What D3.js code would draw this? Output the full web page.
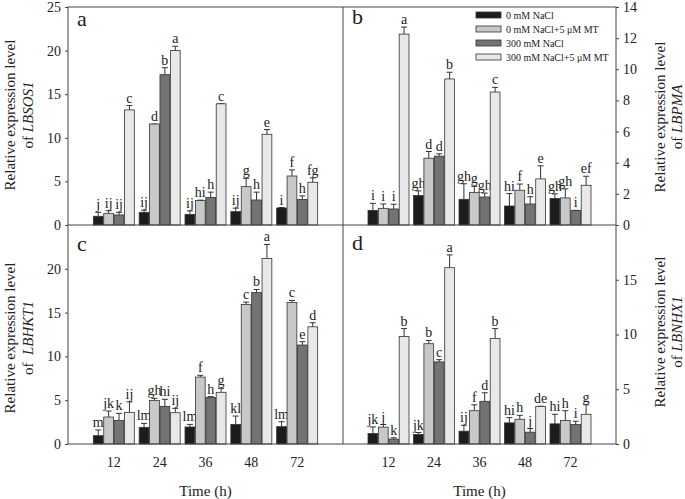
<!DOCTYPE html>
<html>
<head>
<meta charset="utf-8">
<script src="https://cdn.jsdelivr.net/npm/d3@7"></script>
<style>
body { margin: 0; background: #fff; }
text { font-family: "Liberation Serif", "Times New Roman", serif; fill: #222; }
</style>
</head>
<body>
<script>
var width = 685,
    height = 499;

// data
var times = ["12", "24", "36", "48", "72"];
var treatments = ["0 mM NaCl", "0 mM NaCl+5 μM MT", "300 mM NaCl", "300 mM NaCl+5 μM MT"];

var sos1Mean = [[1.0, 1.34, 1.15, 13.2], [1.45, 11.58, 17.24, 20.0], [1.22, 2.8, 3.17, 13.9], [1.53, 4.4, 2.87, 10.4], [1.95, 5.62, 2.94, 4.9]];
var sos1Err  = [[0.45, 0.3, 0.3, 0.5], [0.25, 0, 0.8, 0.5], [0.4, 0.05, 0.6, 0], [0.4, 0.95, 0.9, 0.55], [0.05, 0.7, 0.4, 0.5]];
var sos1Sig  = [["j", "ij", "ij", "c"], ["ij", "d", "b", "a"], ["ij", "hi", "h", "c"], ["ij", "g", "h", "e"], ["i", "f", "h", "fg"]];

var pmaMean = [[0.94, 1.07, 1.03, 12.26], [1.89, 4.29, 4.42, 9.38], [1.65, 2.08, 1.8, 8.54], [1.22, 2.23, 1.35, 2.96], [1.7, 1.74, 0.94, 2.55]];
var pmaErr  = [[0.45, 0.28, 0.3, 0.45], [0.3, 0.43, 0.15, 0.43], [1.0, 0.4, 0.25, 0.3], [0.8, 0.4, 0.47, 0.84], [0.3, 0.58, 0, 0.58]];
var pmaSig  = [["i", "i", "i", "a"], ["gh", "d", "d", "b"], ["gh", "g", "gh", "c"], ["hi", "f", "h", "e"], ["gh", "gh", "i", "ef"]];

var hkt1Mean = [[0.95, 3.08, 2.7, 3.61], [1.9, 4.98, 4.3, 3.57], [1.94, 7.64, 5.32, 5.9], [2.24, 15.93, 17.3, 21.18], [1.98, 16.16, 11.3, 13.38]];
var hkt1Err  = [[0.65, 0.68, 0.8, 1.2], [0.45, 0.23, 0.8, 0.5], [0.3, 0.2, 0.08, 0.45], [0.95, 0.27, 0.34, 1.6], [0.57, 0.23, 0.38, 0.46]];
var hkt1Sig  = [["m", "jk", "k", "ij"], ["lm", "gh", "hi", "ij"], ["lm", "f", "h", "g"], ["kl", "c", "b", "a"], ["lm", "c", "e", "d"]];

var nhx1Mean = [[0.96, 1.54, 0.45, 9.82], [0.87, 9.16, 7.5, 16.1], [1.17, 3.04, 3.9, 9.64], [1.93, 2.26, 1.08, 3.43], [1.84, 2.14, 1.78, 2.71]];
var nhx1Err  = [[0.6, 0.24, 0.12, 0.72], [0.18, 0.3, 0.2, 1.17], [0.54, 0.54, 0.78, 0.9], [0.48, 0.36, 0.33, 0.02], [0.87, 0.9, 0.3, 0.87]];
var nhx1Sig  = [["jk", "j", "k", "b"], ["jk", "b", "c", "a"], ["ij", "f", "d", "b"], ["hi", "h", "j", "de"], ["hi", "h", "i", "g"]];

var fills = ["#1c1c1c", "#c8c8c8", "#737373", "#e8e8e8"];

var plotL = 68, plotM = 343, plotR = 616,
    plotT = 7, plotMY = 225, plotB = 444;

var panels = [
    {letter: "a", gene: "LBSOS1", x0: plotL, x1: plotM, y0: plotT, y1: plotMY, max: 25, ticks: [0, 5, 10, 15, 20, 25], side: "left",
     mean: sos1Mean, err: sos1Err, sig: sos1Sig, ly: 26, ty: 115},
    {letter: "b", gene: "LBPMA", x0: plotM, x1: plotR, y0: plotT, y1: plotMY, max: 14, ticks: [0, 2, 4, 6, 8, 10, 12, 14], side: "right",
     mean: pmaMean, err: pmaErr, sig: pmaSig, ly: 24, ty: 117},
    {letter: "c", gene: "LBHKT1", x0: plotL, x1: plotM, y0: plotMY, y1: plotB, max: 25, ticks: [0, 5, 10, 15, 20], side: "left",
     mean: hkt1Mean, err: hkt1Err, sig: hkt1Sig, ly: 251, ty: 338},
    {letter: "d", gene: "LBNHX1", x0: plotM, x1: plotR, y0: plotMY, y1: plotB, max: 20, ticks: [0, 5, 10, 15], side: "right",
     mean: nhx1Mean, err: nhx1Err, sig: nhx1Sig, ly: 250, ty: 332}
];

var svg = d3.select("body")
  .append("svg")
    .attr("width", width)
    .attr("height", height);

var inner = d3.scaleBand()
    .domain(d3.range(4))
    .range([-20.5, 20.5])
    .paddingInner(0.06);

panels.forEach(function(p) {
    var x = d3.scalePoint()
        .domain(times)
        .range([p.x0, p.x1])
        .padding(1);
    var y = d3.scaleLinear()
        .domain([0, p.max])
        .range([p.y1, p.y0]);

    var g = svg.append("g").attr("class", "panel-" + p.letter);

    // y axis
    var axis = p.side == "left" ? d3.axisLeft(y) : d3.axisRight(y);
    axis.tickValues(p.ticks).tickSize(3).tickPadding(4).tickFormat(d3.format("d"));
    var ax = g.append("g")
        .attr("transform", "translate(" + (p.side == "left" ? p.x0 : p.x1) + ",0)")
        .call(axis);
    ax.select(".domain").remove();
    ax.selectAll("line").attr("stroke", "#444");
    ax.selectAll("text")
        .style("font-family", "Liberation Serif")
        .style("font-size", "14px")
        .attr("fill", "#222");

    // bars
    var rows = [];
    p.mean.forEach(function(vals, i) {
        vals.forEach(function(v, j) {
            rows.push({t: times[i], k: j, v: v, e: p.err[i][j], s: p.sig[i][j]});
        });
    });

    var bar = g.append("g").selectAll("g")
        .data(rows).enter()
        .append("g")
        .attr("transform", function(d) { return "translate(" + (x(d.t) + inner(d.k)) + ",0)"; });

    bar.append("line")
        .attr("x1", inner.bandwidth() / 2)
        .attr("x2", inner.bandwidth() / 2)
        .attr("y1", function(d) { return y(d.v); })
        .attr("y2", function(d) { return y(d.v + d.e); })
        .attr("stroke", "#333");
    bar.append("line")
        .attr("x1", inner.bandwidth() / 2 - 3)
        .attr("x2", inner.bandwidth() / 2 + 3)
        .attr("y1", function(d) { return y(d.v + d.e); })
        .attr("y2", function(d) { return y(d.v + d.e); })
        .attr("stroke", "#333");

    bar.append("rect")
        .attr("x", 0)
        .attr("y", function(d) { return y(d.v); })
        .attr("width", inner.bandwidth())
        .attr("height", function(d) { return y(0) - y(d.v); })
        .attr("fill", function(d) { return fills[d.k]; })
        .attr("stroke", "#333")
        .attr("stroke-width", 0.8);

    bar.append("text")
        .attr("x", inner.bandwidth() / 2)
        .attr("y", function(d) { return y(d.v + d.e) - 3; })
        .attr("text-anchor", "middle")
        .style("font-size", "14px")
        .text(function(d) { return d.s; });

    // panel letter
    g.append("text")
        .attr("x", p.x0 + 9)
        .attr("y", p.ly)
        .style("font-size", "22px")
        .text(p.letter);

    // axis title, two lines
    var tx = p.side == "left" ? [15, 33] : [665, 682];
    g.append("text")
        .attr("transform", "translate(" + tx[0] + "," + p.ty + ") rotate(-90)")
        .attr("text-anchor", "middle")
        .style("font-size", "15px")
        .text("Relative expression level");
    var t2 = g.append("text")
        .attr("transform", "translate(" + tx[1] + "," + p.ty + ") rotate(-90)")
        .attr("text-anchor", "middle")
        .style("font-size", "15px")
        .attr("xml:space", "preserve");
    t2.append("tspan").text(p.letter == "c" ? "of  " : "of ");
    t2.append("tspan").style("font-style", "italic").text(p.gene);

    // x labels on bottom panels
    if (p.y1 == plotB) {
        g.selectAll(".xt")
            .data(times).enter()
            .append("text")
            .attr("x", function(d) { return x(d); })
            .attr("y", 467)
            .attr("text-anchor", "middle")
            .style("font-size", "14px")
            .text(function(d) { return d; });
        g.append("text")
            .attr("x", (p.x0 + p.x1) / 2)
            .attr("y", 496)
            .attr("text-anchor", "middle")
            .style("font-size", "15px")
            .text("Time (h)");
    }
});

// frame
var frame = svg.append("g")
    .attr("fill", "none")
    .attr("stroke", "#444");
frame.append("rect")
    .attr("x", plotL).attr("y", plotT)
    .attr("width", plotR - plotL).attr("height", plotB - plotT);
frame.append("line")
    .attr("x1", plotM).attr("x2", plotM).attr("y1", plotT).attr("y2", plotB);
frame.append("line")
    .attr("x1", plotL).attr("x2", plotR).attr("y1", plotMY).attr("y2", plotMY);

// legend
var legend = svg.append("g")
    .attr("class", "legend")
    .selectAll("g")
    .data(treatments).enter()
    .append("g")
    .attr("transform", function(d, i) { return "translate(476," + (15 + i * 14) + ")"; });
legend.append("rect")
    .attr("x", 0)
    .attr("y", -3)
    .attr("width", 25)
    .attr("height", 6)
    .attr("fill", function(d, i) { return fills[i]; })
    .attr("stroke", "#333")
    .attr("stroke-width", 0.8);
legend.append("text")
    .attr("x", 30)
    .attr("y", 3.5)
    .style("font-size", "10px")
    .text(function(d) { return d; });
</script>
</body>
</html>
